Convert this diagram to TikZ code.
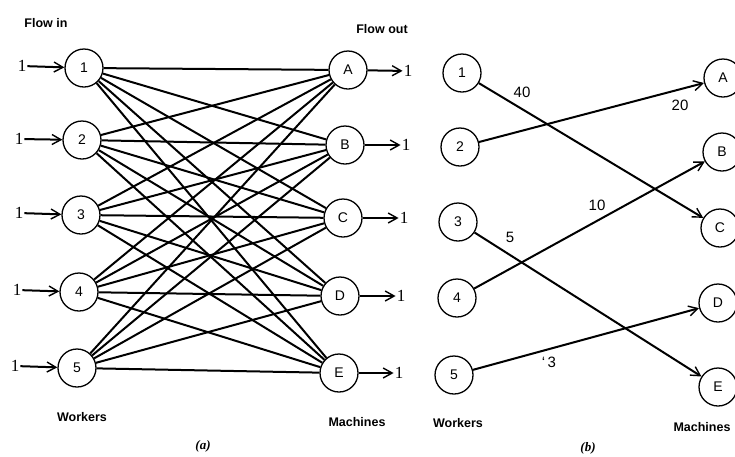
\documentclass[tikz,border=0pt]{standalone}
\usepackage{fontspec}
\setmainfont{Liberation Sans}
\newfontfamily\serifff{Liberation Serif}
\usetikzlibrary{arrows.meta}
\begin{document}
\begin{tikzpicture}[x=1pt,y=-1pt,
  vtx/.style={draw,circle,line width=1.3pt,minimum size=38pt,inner sep=0pt,font=\fontsize{14}{14}\selectfont},
  edge/.style={line width=2pt},
  arr/.style={line width=2pt,-{Straight Barb[length=9pt,width=10pt,line width=1.4pt]}},
  flow/.style={font=\serifff\fontsize{17}{17}\selectfont,inner sep=1pt},
  lbltext/.style={font=\bfseries\fontsize{12.5}{12.5}\selectfont},
  wt/.style={font=\fontsize{15}{15}\selectfont,inner sep=1pt},
  sub/.style={font=\serifff\bfseries\itshape\fontsize{13}{13}\selectfont}]
\useasboundingbox (0,0) rectangle (735,456);
\fill[white] (0,0) rectangle (735,456);
% ---- (a)
\node[vtx] (w1) at (84,68) {1};
\node[vtx] (w2) at (82,140) {2};
\node[vtx] (w3) at (81,215) {3};
\node[vtx] (w4) at (79,292) {4};
\node[vtx] (w5) at (77,368) {5};
\node[vtx] (mA) at (348,70) {A};
\node[vtx] (mB) at (345,145) {B};
\node[vtx] (mC) at (343,218) {C};
\node[vtx] (mD) at (340,296) {D};
\node[vtx] (mE) at (339,373) {E};
\foreach \w in {w1,w2,w3,w4,w5}
  \foreach \m in {mA,mB,mC,mD,mE}
    \draw[edge] (\w) -- (\m);
\node[flow] (i1) at (22,66) {1};
\node[flow] (i2) at (19,139) {1};
\node[flow] (i3) at (19,213) {1};
\node[flow] (i4) at (17,290) {1};
\node[flow] (i5) at (15,366) {1};
\node[flow] (o1) at (408,71) {1};
\node[flow] (o2) at (406,145) {1};
\node[flow] (o3) at (404,218) {1};
\node[flow] (o4) at (401,296) {1};
\node[flow] (o5) at (399,373) {1};
\foreach \i/\w in {i1/w1,i2/w2,i3/w3,i4/w4,i5/w5}
  \draw[arr] (\i) -- (\w);
\foreach \m/\o in {mA/o1,mB/o2,mC/o3,mD/o4,mE/o5}
  \draw[arr] (\m) -- (\o);
\node[lbltext] (fin) at (46,23) {Flow in};
\node[lbltext] (fout) at (382,29) {Flow out};
\node[lbltext] (wka) at (82,417) {Workers};
\node[lbltext] (mca) at (357,422) {Machines};
\node[sub] (la) at (203,446) {(a)};
% ---- (b)
\node[vtx] (p1) at (462,73) {1};
\node[vtx] (p2) at (460,147) {2};
\node[vtx] (p3) at (458,222) {3};
\node[vtx] (p4) at (457,298) {4};
\node[vtx] (p5) at (454,375) {5};
\node[vtx] (qA) at (723,78) {A};
\node[vtx] (qB) at (722,152) {B};
\node[vtx] (qC) at (720,228) {C};
\node[vtx] (qD) at (718,303) {D};
\node[vtx] (qE) at (718,387) {E};
\draw[arr] (p1) -- (qC);
\draw[arr] (p2) -- (qA);
\draw[arr] (p3) -- (qE);
\draw[arr] (p4) -- (qB);
\draw[arr] (p5) -- (qD);
\node[wt] (t40) at (522,92) {40};
\node[wt] (t20) at (680,105) {20};
\node[wt] (t10) at (597,205) {10};
\node[wt] (t5) at (510,237) {5};
\node[wt] (t3) at (549,362) {`\,3};
\node[lbltext] (wkb) at (458,423) {Workers};
\node[lbltext] (mcb) at (702,427) {Machines};
\node[sub] (lb) at (588,448) {(b)};
\end{tikzpicture}
\end{document}
